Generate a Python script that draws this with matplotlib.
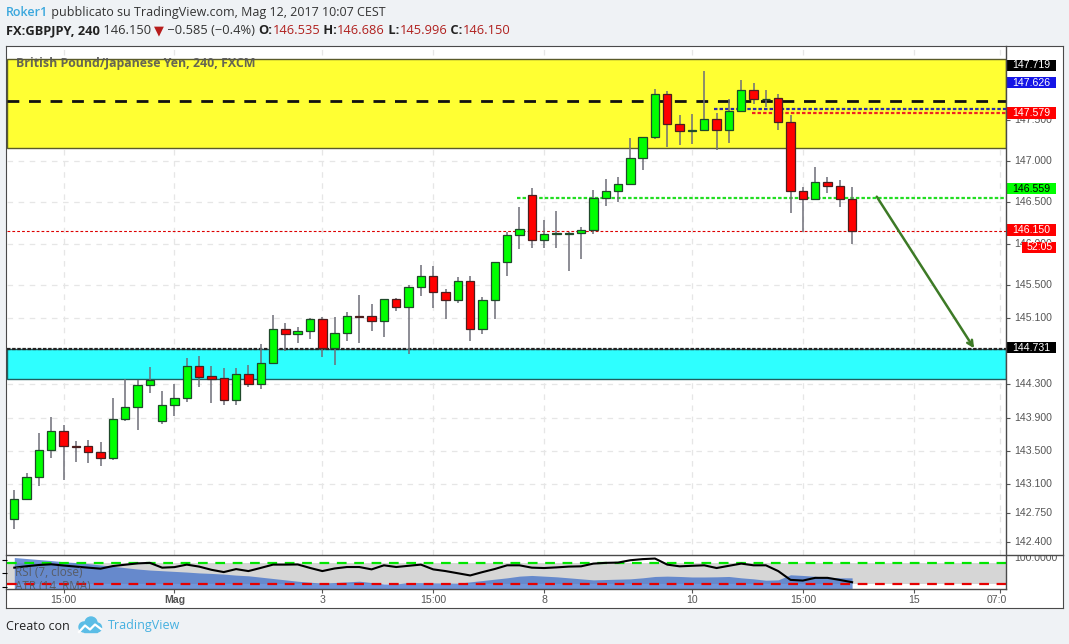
import numpy as np
import matplotlib
matplotlib.use("Agg")
import matplotlib.pyplot as plt
from matplotlib.patches import Rectangle, Circle
from matplotlib.lines import Line2D
from matplotlib.transforms import Bbox, TransformedBbox, IdentityTransform

# GBPJPY 4h candles
opens = [142.671, 142.912, 143.178, 143.504, 143.734, 143.560, 143.553, 143.480, 143.408, 143.879,
         144.024, 144.290, 143.855, 144.048, 144.133, 144.519, 144.399, 144.374, 144.109, 144.423,
         144.302, 144.556, 144.966, 144.913, 144.942, 145.087, 144.744, 144.918, 145.127, 145.124,
         145.063, 145.329, 145.232, 145.474, 145.607, 145.414, 145.317, 145.546, 144.966, 145.317,
         145.776, 146.102, 146.586, 146.042, 146.118, 146.120, 146.126, 146.170, 146.549, 146.634,
         146.718, 147.033, 147.286, 147.806, 147.443, 147.363, 147.371, 147.504, 147.371, 147.601,
         147.854, 147.746, 147.758, 147.468, 146.634, 146.537, 146.743, 146.694, 146.535]
highs = [143.025, 143.227, 143.714, 143.907, 143.810, 143.617, 143.629, 143.605, 144.133, 144.362,
         144.354, 144.511, 144.221, 144.306, 144.620, 144.644, 144.523, 144.499, 144.499, 144.535,
         144.789, 145.139, 145.039, 144.994, 145.103, 145.115, 145.115, 145.176, 145.377, 145.272,
         145.329, 145.345, 145.498, 145.743, 145.731, 145.453, 145.595, 145.611, 145.353, 145.776,
         146.139, 146.444, 146.674, 146.287, 146.396, 146.142, 146.199, 146.650, 146.783, 146.803,
         147.274, 147.286, 147.870, 147.842, 147.556, 147.568, 148.088, 147.576, 147.746, 147.975,
         147.943, 147.858, 147.810, 147.556, 146.686, 146.928, 146.807, 146.770, 146.686]
lows = [142.554, 142.904, 143.077, 143.415, 143.146, 143.367, 143.355, 143.318, 143.387, 143.859,
        143.753, 144.200, 143.826, 143.919, 144.092, 144.273, 144.072, 144.055, 144.055, 144.273,
        144.249, 144.556, 144.708, 144.805, 144.853, 144.635, 144.539, 144.829, 144.805, 144.950,
        144.877, 145.184, 144.672, 145.372, 145.228, 145.095, 145.288, 144.829, 144.913, 145.095,
        145.614, 145.940, 145.952, 145.952, 145.952, 145.674, 145.816, 146.122, 146.460, 146.508,
        146.718, 146.895, 147.269, 147.166, 147.190, 147.202, 147.359, 147.129, 147.214, 147.589,
        147.692, 147.649, 147.378, 146.375, 146.146, 146.537, 146.617, 146.448, 145.996]
closes = [142.912, 143.178, 143.504, 143.734, 143.560, 143.550, 143.480, 143.408, 143.879, 144.024,
          144.290, 144.350, 144.048, 144.133, 144.519, 144.394, 144.370, 144.109, 144.423, 144.302,
          144.556, 144.966, 144.913, 144.942, 145.087, 144.744, 144.918, 145.124, 145.119, 145.063,
          145.329, 145.232, 145.474, 145.607, 145.414, 145.317, 145.546, 144.966, 145.317, 145.776,
          146.102, 146.175, 146.042, 146.114, 146.126, 146.126, 146.170, 146.549, 146.634, 146.718,
          147.033, 147.286, 147.806, 147.443, 147.359, 147.369, 147.504, 147.371, 147.601, 147.854,
          147.746, 147.753, 147.468, 146.634, 146.537, 146.743, 146.694, 146.537, 146.150]

# indicators
rsi = [60.5, 63.2, 65.5, 66.8, 64.5, 62.5, 60.5, 58.6, 63.5, 66.0,
       68.5, 69.5, 60.5, 61.5, 66.2, 62.5, 56.5, 52.2, 57.8, 54.1,
       60.0, 66.2, 66.2, 66.5, 60.0, 54.1, 59.0, 61.7, 61.7, 57.3,
       64.9, 61.7, 64.0, 66.2, 57.3, 54.1, 50.0, 45.9, 52.2, 58.0,
       64.9, 64.9, 60.5, 59.8, 61.0, 62.5, 63.0, 68.1, 69.5, 70.0,
       74.4, 76.5, 77.6, 66.2, 63.0, 64.0, 64.9, 59.8, 64.0, 68.1,
       64.9, 64.9, 54.1, 37.6, 36.3, 41.4, 41.4, 37.5, 33.2]
atr = [0.372, 0.360, 0.348, 0.336, 0.322, 0.312, 0.300, 0.284, 0.268, 0.252,
       0.236, 0.224, 0.216, 0.208, 0.200, 0.190, 0.184, 0.176, 0.164, 0.156,
       0.140, 0.124, 0.108, 0.092, 0.080, 0.070, 0.076, 0.084, 0.092, 0.076,
       0.060, 0.060, 0.076, 0.074, 0.072, 0.070, 0.068, 0.084, 0.100, 0.116,
       0.132, 0.152, 0.160, 0.152, 0.144, 0.132, 0.120, 0.108, 0.112, 0.116,
       0.120, 0.132, 0.148, 0.152, 0.148, 0.142, 0.142, 0.144, 0.148, 0.132,
       0.120, 0.104, 0.108, 0.168, 0.160, 0.150, 0.140, 0.132, 0.132]

# axis ticks
xtick_pos = [4, 13, 25, 34, 43, 55, 64, 73, 80]
xtick_lbl = ["15:00", "Mag", "3", "15:00", "8", "10", "15:00", "15", "07:00"]
price_ticks = [147.5, 147.0, 146.5, 146.0, 145.5, 145.1, 144.3, 143.9, 143.5, 143.1, 142.75, 142.4]

# drawn levels / zones
resist_zone = (147.16, 148.23)
support_zone = (144.362, 144.728)
lvl_black_top = 147.719
lvl_blue = 147.626
lvl_red = 147.579
lvl_green = 146.559
lvl_last = 146.150
lvl_black_low = 144.731
arrow_from = (70.0, 146.569)
arrow_to = (77.9, 144.737)

W, H = 1069, 644
plt.rcParams["lines.scale_dashes"] = False
plt.rcParams["font.family"] = ["Open Sans", "DejaVu Sans"]

fig = plt.figure(figsize=(W / 100, H / 100), dpi=100, facecolor="#eff2f5")


def rect(x0, y0, x1, y1):
    return [x0 / W, 1 - y1 / H, (x1 - x0) / W, (y1 - y0) / H]


def clean(a):
    a.set_facecolor("none")
    a.tick_params(left=False, right=False, bottom=False, top=False,
                  labelleft=False, labelright=False, labelbottom=False, labeltop=False)
    for s in a.spines.values():
        s.set_visible(False)


XLIM = (-0.633, 80.49)
YLIM = (142.2418, 148.3956)
FRAME = "#4a4a4a"

# white chart panel with frame
bg = fig.add_axes(rect(6, 45.5, 1063, 607.5))
bg.set_xticks([])
bg.set_yticks([])
bg.set_facecolor("white")
for s in bg.spines.values():
    s.set_color(FRAME)

# ---- main price pane ----
ax = fig.add_axes(rect(6.5, 45.5, 1006, 554.8))
clean(ax)
ax.set_xlim(*XLIM)
ax.set_ylim(*YLIM)

for p in price_ticks:
    ax.axhline(p, color="#e6e6e6", lw=0.9, ls=(0, (4, 4)), zorder=0)
for xp in xtick_pos:
    ax.axvline(xp, color="#e6e6e6", lw=0.9, ls=(0, (4, 4)), zorder=0)

ax.axhspan(*resist_zone, facecolor="#ffff33", edgecolor="#5a5a2a", lw=1, zorder=1)
ax.axhspan(*support_zone, facecolor="#2effff", edgecolor="#1f5f5f", lw=1, zorder=1)

n = len(opens)
x = np.arange(n)
o = np.array(opens)
c = np.array(closes)
up = c >= o
ax.axhline(lvl_black_top, color="#111111", lw=2.0, ls=(0, (8.5, 7)), zorder=2)
ax.axhline(lvl_black_low, color="#222222", lw=1.6, ls=(0, (2.5, 1.2)), zorder=2)
ax.axhline(lvl_last, color="#dd0000", lw=0.8, ls=(0, (2, 1.5)), zorder=2)
ax.hlines(lvl_blue, 56.8, XLIM[1], color="#2a2aa8", lw=1.6, ls=(0, (2.5, 1.5)), zorder=2)
ax.hlines(lvl_red, 59.85, XLIM[1], color="#ee2222", lw=1.6, ls=(0, (2.5, 1.5)), zorder=2)
ax.hlines(lvl_green, 40.83, XLIM[1], color="#22dd22", lw=1.6, ls=(0, (2.5, 1.5)), zorder=2)

# candles
ax.vlines(x, lows, highs, color="#6e6e78", lw=1.1, zorder=3)
body_col = np.where(up, "#00ff00", "#ff0000")
edge_col = np.where(up, "#1f4a2a", "#4a1f1f")
ax.bar(x, np.maximum(np.abs(c - o), 0.004), bottom=np.minimum(o, c), width=0.68,
       color=body_col, edgecolor=edge_col, linewidth=0.9, zorder=4)

ax.annotate("", xy=arrow_to, xytext=arrow_from,
            arrowprops=dict(arrowstyle="->", color="#3d7a26", lw=1.8,
                            shrinkA=0, shrinkB=0, mutation_scale=10), zorder=5)

fig.text(15.5 / W, 1 - 63.7 / H, "British Pound/Japanese Yen, 240, FXCM",
         fontsize=8.9, fontweight="bold", color="#555555", alpha=0.9, va="center")

# ---- price scale ----
axp = fig.add_axes(rect(1006, 45.5, 1063, 554.8))
clean(axp)
axp.set_xlim(0, 57)
axp.set_ylim(*YLIM)
for p in price_ticks:
    axp.hlines(p, 0, 3.5, color="#555555", lw=0.8)
    axp.text(8, p, f"{p:.3f}", fontsize=7.6, color="#555555", va="center",
             family=["Liberation Sans", "DejaVu Sans"])

hh = 5.6 / 82.76
boxes = [(148.155, "147.719", "#000000", "white", 0),
         (147.944, "147.626", "#1515e6", "white", 0),
         (147.581, "147.579", "#ff0000", "white", 0),
         (146.663, "146.559", "#00ff00", "black", 0),
         (146.166, "146.150", "#ff0000", "white", 0),
         (145.957, "52:05", "#ff0000", "white", 15.7),
         (144.745, "144.731", "#000000", "white", 0)]
for yc, lbl, fc, tc, x0 in boxes:
    axp.add_patch(Rectangle((x0, yc - hh), 50 - x0, 2 * hh, facecolor=fc,
                            edgecolor="none", zorder=5, clip_on=False))
    axp.text((x0 + 50) / 2 + 0.5, yc, lbl, fontsize=7.6, color=tc, ha="center",
             va="center", zorder=6, family=["Liberation Sans", "DejaVu Sans"])

# ---- RSI / ATR pane ----
RLIM = (20.5, 84.6)
axr = fig.add_axes(rect(6.5, 554.8, 1006, 589))
clean(axr)
axr.set_xlim(*XLIM)
axr.set_ylim(*RLIM)
axr.axhspan(30, 70, color="#d6d6d6", lw=0, zorder=0)
axr.set_xticks(xtick_pos)
axr.tick_params(axis="x", bottom=True, length=3, color="#555555", labelbottom=False)

axa = axr.twinx()
clean(axa)
axa.set_ylim(0, 0.404)
axa.fill_between(x, 0, atr, color="#3b6cc9", alpha=0.72, lw=0)

axi = axr.twinx()
clean(axi)
axi.set_ylim(*RLIM)
axi.axhline(70, color="#00e600", lw=1.6, ls=(0, (7, 5.5)))
axi.axhline(30, color="#e60000", lw=1.6, ls=(0, (7, 5.5)))
axi.plot(x, rsi, color="black", lw=1.5)
axi.text(8 / 998, 1 - (572.7 - 554.8) / 34.2, "RSI (7, close)", fontsize=8.5,
         color="#555555", alpha=0.85, va="center", transform=axi.transAxes)
axi.text(8 / 998, 1 - (586.8 - 554.8) / 34.2, "ATR (14, RMA)", fontsize=8.5,
         color="#555555", alpha=0.85, va="center", transform=axi.transAxes, clip_on=True)

clip_x = TransformedBbox(Bbox([[0, 0], [1006 / W, 1]]), fig.transFigure)
for xp, lbl in zip(xtick_pos, xtick_lbl):
    t = axr.text(xp, -(600 - 589) / 34.2, lbl, ha="center", va="center", fontsize=7.6,
                 color="#555555", fontweight="bold" if lbl == "Mag" else "normal",
                 transform=axr.get_xaxis_transform(),
                 family=["Liberation Sans", "DejaVu Sans"])
    t.set_clip_box(clip_x)
    t.set_clip_on(True)

clip_r = TransformedBbox(Bbox([[0, 0], [1, 1 - 555.5 / H]]), fig.transFigure)
t = fig.text(1014 / W, 1 - 557.8 / H, "100.0000", fontsize=7.6, color="#555555",
             va="center", family=["Liberation Sans", "DejaVu Sans"])
t.set_clip_box(clip_r)
t.set_clip_on(True)

# frame separators
fig.add_artist(Line2D([1006 / W] * 2, [1 - 45.5 / H, 1 - 589 / H], color=FRAME, lw=1))
fig.add_artist(Line2D([6 / W, 1063 / W], [1 - 554.8 / H] * 2, color=FRAME, lw=1))
fig.add_artist(Line2D([6 / W, 1006 / W], [1 - 589 / H] * 2, color=FRAME, lw=1))

# ---- header ----
renderer = fig.canvas.get_renderer()


def runs(x_px, y_px, parts, size):
    xx = x_px
    for s, col, wt in parts:
        tt = fig.text(xx / W, 1 - y_px / H, s, color=col, fontsize=size,
                      fontweight=wt, va="center")
        xx += tt.get_window_extent(renderer=renderer).width


RED = "#b0201e"
runs(6, 12.5, [("Roker1", "#3aa7dd", "semibold"),
               (" pubblicato su TradingView.com, Mag 12, 2017 10:07 CEST", "#333333", "normal")],
     9.0)
runs(6, 30.5, [("FX:GBPJPY, 240", "#222222", "bold"), (" 146.150 ", "#333333", "normal"),
               ("\u25bc", "#b71c1c", "normal"), (" \u22120.585 (\u22120.4%) ", "#333333", "normal"),
               ("O:", "#222222", "bold"), ("146.535", RED, "normal"),
               (" H:", "#222222", "bold"), ("146.686", RED, "normal"),
               (" L:", "#222222", "bold"), ("145.996", RED, "normal"),
               (" C:", "#222222", "bold"), ("146.150", RED, "normal")],
     9.3)

# ---- footer ----
fig.text(6 / W, 1 - 626 / H, "Creato con", fontsize=9, color="#222222", va="center")
fig.text(108 / W, 1 - 626 / H, "TradingView", fontsize=9, color="#45b0e0", va="center")
logo = "#5bbde6"
for cx, cy, r in [(84, 627, 5), (91, 623, 6), (97, 627.5, 4.5)]:
    fig.add_artist(Circle((cx, H - cy), r, color=logo, transform=IdentityTransform()))
fig.add_artist(Rectangle((84, H - 632), 13, 6, color=logo, transform=IdentityTransform()))
fig.add_artist(Line2D([79, 85, 90, 95, 101], [H - 632, H - 625.5, H - 629.5, H - 624.5, H - 629],
                      color="white", lw=1.6, transform=IdentityTransform()))

fig.savefig("out.png", dpi=100, facecolor=fig.get_facecolor())
